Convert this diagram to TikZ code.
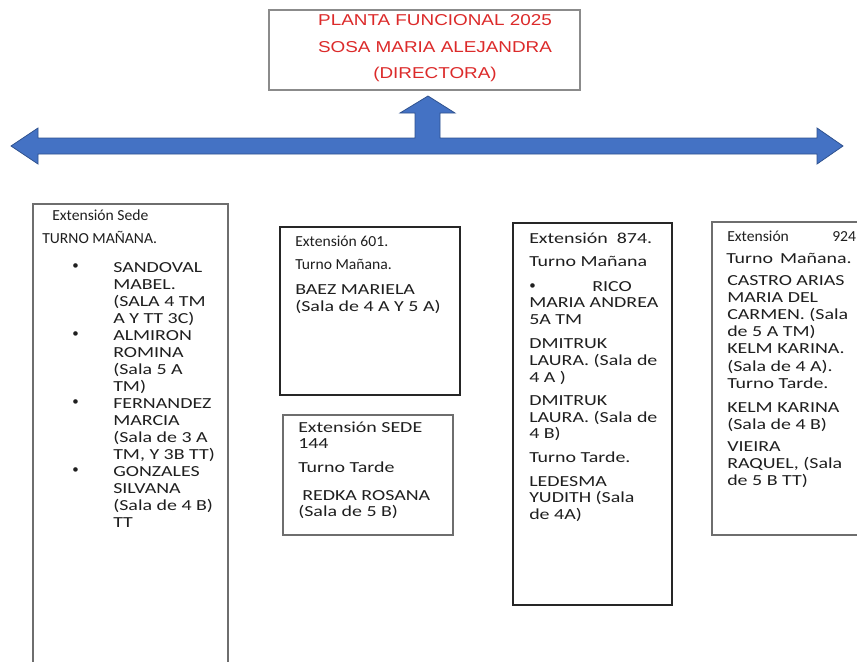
\documentclass[tikz,border=0pt]{standalone}
\usepackage{fontspec}
\setmainfont{Carlito}
\newfontfamily\wideF{Carlito}[FakeStretch=1.3]
\newfontfamily\narrowF{Carlito}[FakeStretch=1.02]
\newfontfamily\titlefont{Liberation Sans}[FakeStretch=1.2]
\definecolor{arrowblue}{HTML}{4472C4}
\definecolor{arrowedge}{HTML}{2F528F}
\definecolor{titlered}{HTML}{DC2A2A}
\definecolor{boxgray}{HTML}{6E6E6E}
\begin{document}
\begin{tikzpicture}[x=0.75pt,y=-0.75pt,
  txt/.style={anchor=base west,inner sep=0pt,font=\wideF\fontsize{11.5}{12.75}\selectfont,text=black!88},
  hdr/.style={anchor=base west,inner sep=0pt,font=\narrowF\fontsize{11.5}{12.75}\selectfont,text=black!88},
  bul/.style={anchor=base west,inner sep=0pt,font=\narrowF\fontsize{9.5}{12}\selectfont,text=black!88},
  ttl/.style={anchor=base,inner sep=0pt,font=\titlefont\fontsize{11.8}{14}\selectfont,text=titlered},
  thinbox/.style={draw=boxgray,line width=1pt},
  thickbox/.style={draw=black!85,line width=1.6pt},
  bigarrow/.style={fill=arrowblue,draw=arrowedge,line width=0.6pt,line join=miter}]
\useasboundingbox[fill=white] (0,0) rectangle (857,661);

% title
\draw[draw=boxgray!80,line width=0.9pt] (269,10) rectangle (580,90);
\node[ttl] (title1) at (435,25) {PLANTA FUNCIONAL 2025};
\node[ttl] (title2) at (435,52) {SOSA MARIA ALEJANDRA};
\node[ttl] (title3) at (435,78) {(DIRECTORA)};

% block arrow
\draw[bigarrow] (11,146) -- (38,128) -- (38,138) -- (415,138) -- (415,113) -- (400,113)
  -- (428,96) -- (455,113) -- (440,113) -- (440,138) -- (817,138) -- (817,128)
  -- (843,146) -- (817,164) -- (817,154) -- (38,154) -- (38,164) -- cycle;

% boxes
\draw[thinbox] (33,204) rectangle (228,675);
\draw[thickbox] (280,227) rectangle (460,395);
\draw[thinbox] (283,415) rectangle (453,535);
\draw[thickbox] (513,223) rectangle (672,605);
\draw[thinbox] (712,222) rectangle (875,535);

% Sede box
\node[hdr] (s1) at (52,220) {Extensión Sede};
\node[hdr] (s2) at (42,243) {TURNO MAÑANA.};
\foreach \t [count=\i from 0] in {{SANDOVAL},{MABEL.},{(SALA 4 TM},{A Y TT 3C)},{ALMIRON},{ROMINA},{(Sala 5 A},{TM)},{FERNANDEZ},{MARCIA},{(Sala de 3 A},{TM, Y 3B TT)},{GONZALES},{SILVANA},{(Sala de 4 B)},{TT}}
  \node[txt] (sl\i) at (113,{272+17*\i}) {\t};
\foreach \k in {0,4,8,12}
  \node[bul] (sb\k) at (72,{269+17*\k}) {•};

% 601 box
\node[hdr] (a1) at (295,246) {Extensión 601.};
\node[hdr] (a2) at (295,269) {Turno Mañana.};
\node[txt] (a3) at (295,294) {BAEZ MARIELA};
\node[txt] (a4) at (295,311) {(Sala de 4 A Y 5 A)};

% SEDE 144 box
\node[txt] (b1) at (298,432) {Extensión SEDE};
\node[txt] (b2) at (298,448) {144};
\node[txt] (b3) at (298,472) {Turno Tarde};
\node[txt] (b4) at (302,500) {REDKA ROSANA};
\node[txt] (b5) at (298,516) {(Sala de 5 B)};

% 874 box
\node[txt] (c1) at (529,243) {Extensión\ \ 874.};
\node[txt] (c2) at (529,266) {Turno Mañana};
\node[bul] (c3a) at (529,289) {•};
\node[txt] (c3) at (592,291) {RICO};
\node[txt] (c4) at (529,307) {MARIA ANDREA};
\node[txt] (c5) at (529,324) {5A TM};
\node[txt] (c6) at (529,348) {DMITRUK};
\node[txt] (c7) at (529,365) {LAURA. (Sala de};
\node[txt] (c8) at (529,382) {4 A )};
\node[txt] (c9) at (529,405) {DMITRUK};
\node[txt] (c10) at (529,422) {LAURA. (Sala de};
\node[txt] (c11) at (529,438) {4 B)};
\node[txt] (c12) at (529,462) {Turno Tarde.};
\node[txt] (c13) at (529,486) {LEDESMA};
\node[txt] (c14) at (529,502) {YUDITH (Sala};
\node[txt] (c15) at (529,519) {de 4A)};

% 924 box
\node[hdr] (d1) at (727,241) {Extensión};
\node[hdr] (d1b) at (832,241) {924};
\node[txt] (d2) at (726,263) {Turno\hspace{0.45em}Mañana.};
\node[txt] (d3) at (727,285) {CASTRO ARIAS};
\node[txt] (d4) at (727,302) {MARIA DEL};
\node[txt] (d5) at (727,319) {CARMEN. (Sala};
\node[txt] (d6) at (727,336) {de 5 A TM)};
\node[txt] (d7) at (727,353) {KELM KARINA.};
\node[txt] (d8) at (727,371) {(Sala de 4 A).};
\node[txt] (d9) at (727,388) {Turno Tarde.};
\node[txt] (d10) at (727,412) {KELM KARINA};
\node[txt] (d11) at (727,429) {(Sala de 4 B)};
\node[txt] (d12) at (727,451) {VIEIRA};
\node[txt] (d13) at (727,468) {RAQUEL, (Sala};
\node[txt] (d14) at (727,485) {de 5 B TT)};
\end{tikzpicture}
\end{document}
